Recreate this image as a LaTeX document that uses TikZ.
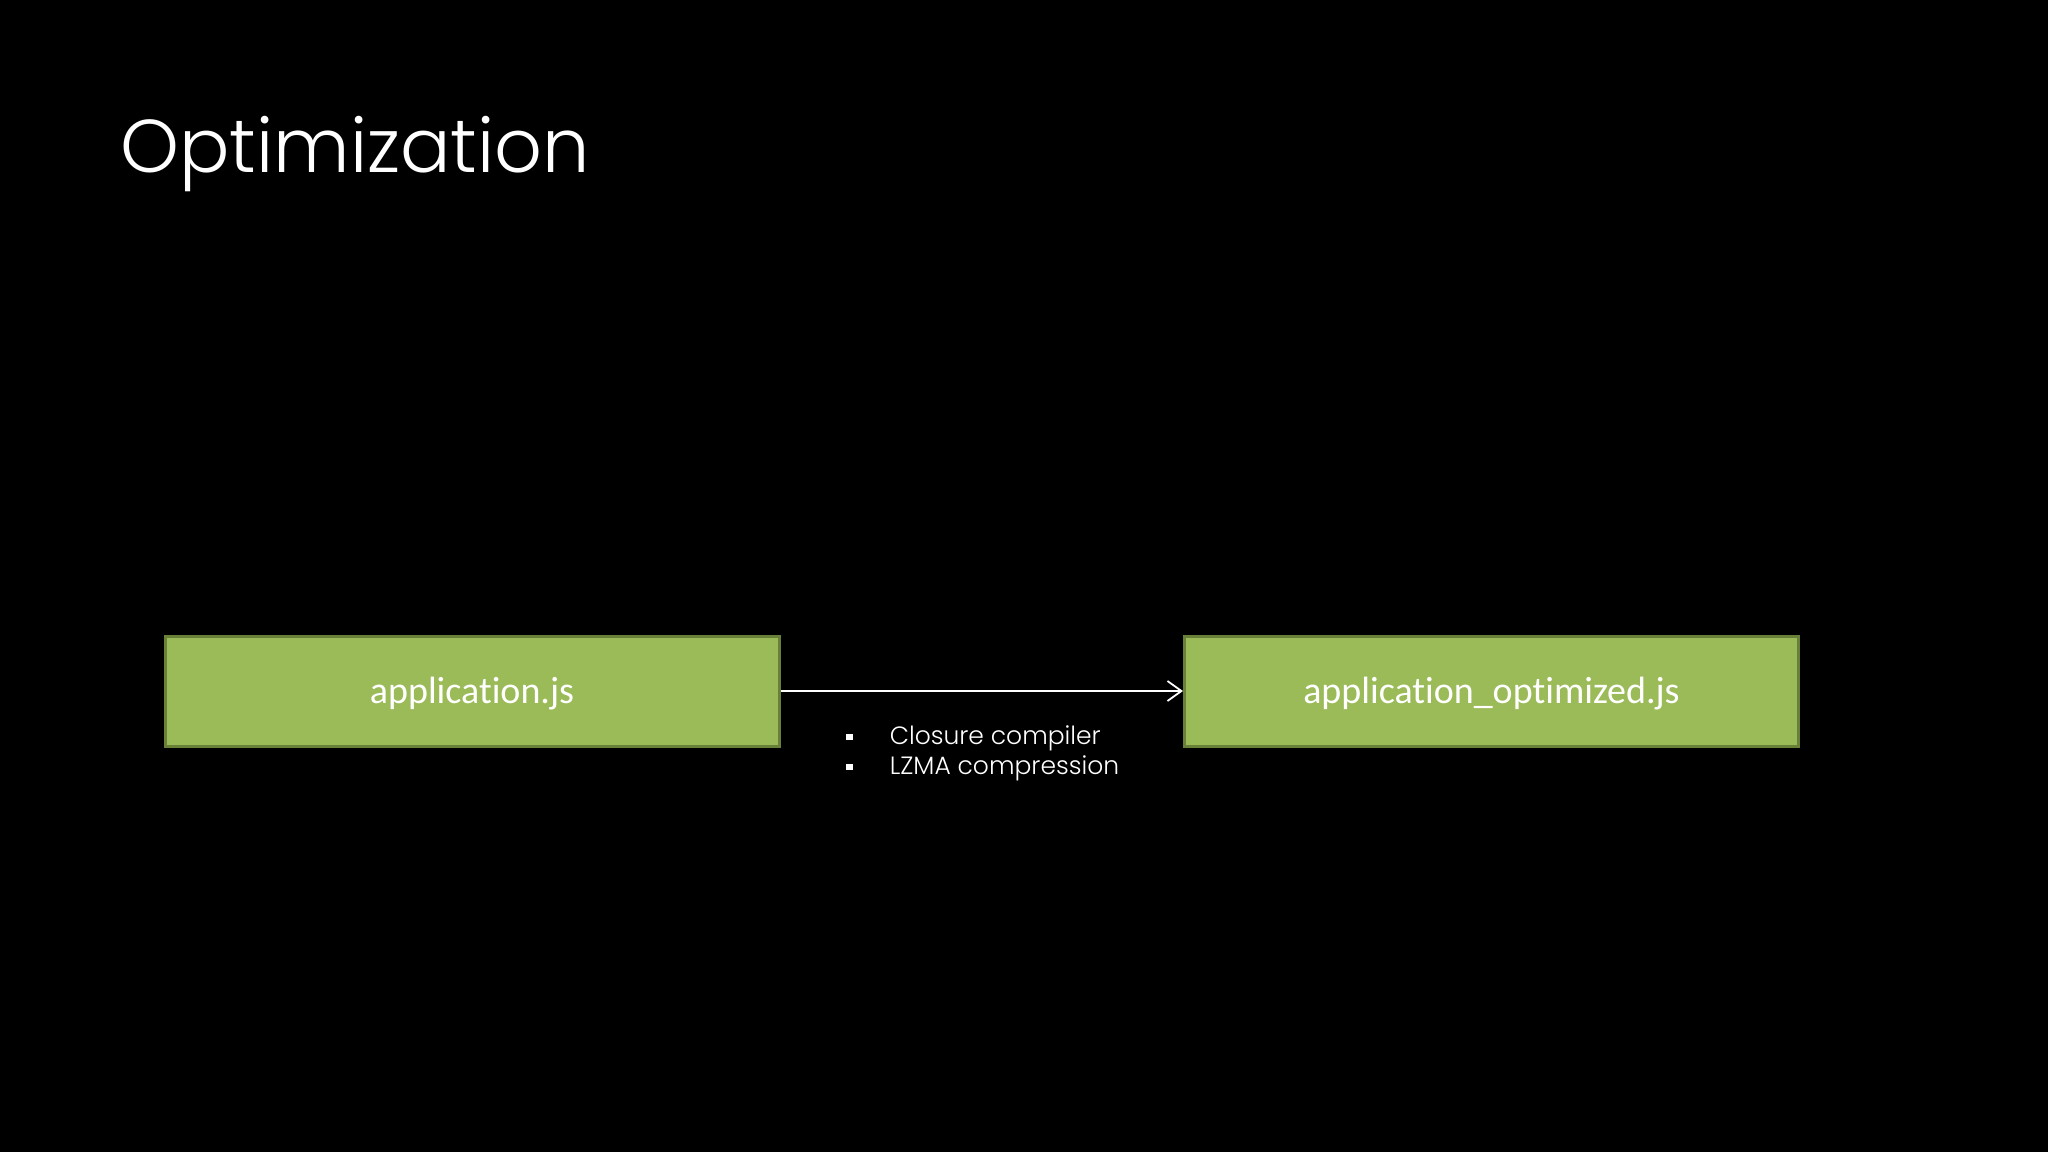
\documentclass[tikz,border=0pt]{standalone}
\usepackage{fontspec}
\setmainfont{Carlito}[Ligatures=NoCommon]
\newfontfamily\gothic{Poppins Light}
\usetikzlibrary{arrows.meta}

\definecolor{boxgreen}{RGB}{155,187,89}
\definecolor{boxedge}{RGB}{104,128,56}

\tikzset{
  filebox/.style={draw=boxedge, fill=boxgreen, line width=1.5pt, minimum width=307pt, minimum height=55pt, inner sep=0pt, text height=15pt, text depth=3pt, text=white, font=\fontsize{19}{22}\selectfont},
  flow/.style={draw=white, line width=0.9pt, -{Straight Barb[length=7pt,width=10pt]}}
}

\begin{document}
\begin{tikzpicture}[x=0.5pt,y=0.5pt,yscale=-1,xscale=1]
%background
\fill [black] (0,0) rectangle (2048,1152);
\useasboundingbox (0,0) rectangle (2048,1152);

%Title
\node (title) [anchor=base west, inner sep=0pt, text=white, font=\gothic\fontsize{37.4}{40}\selectfont] at (120,172) {Optimization};

%Boxes
\node (app) [filebox] at (472,691) {application.js};
\node (appopt) [filebox] at (1491.5,691) {application\_optimized.js};

%Arrow
\draw [flow] (app.east) -- (appopt.west);

%Steps
\node (steps) [anchor=base west, inner sep=0pt, text=white, font=\gothic\fontsize{12.5}{15}\selectfont] at (846,744.4) {%
  \begin{tabular}[t]{@{}l@{\hspace{18.5pt}}l@{}}
    \rule[2pt]{3.2pt}{3.2pt} & Closure compiler\\
    \rule[2pt]{3.2pt}{3.2pt} & LZMA compression
  \end{tabular}};

\end{tikzpicture}
\end{document}
